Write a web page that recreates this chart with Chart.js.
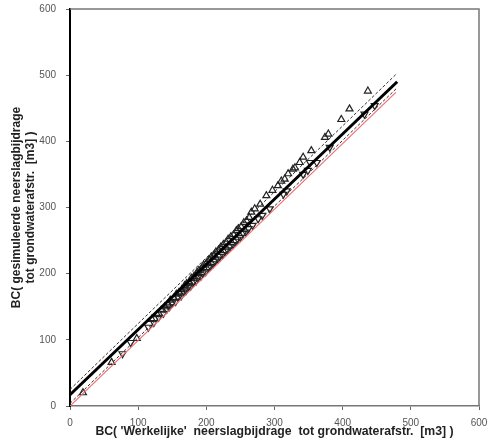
<!DOCTYPE html>
<html><head><meta charset="utf-8">
<script src="https://cdn.jsdelivr.net/npm/chart.js@4"></script>
<style>html,body{margin:0;padding:0;background:#fff}#wrap{width:489px;height:445px}</style>
</head><body><div id="wrap"><canvas id="c" width="489" height="445"></canvas></div>
<script>
const xTicks = [0,100,200,300,400,500,600];
const yTicks = [0,100,200,300,400,500,600];
const upX = [19,61,98,120,128,134,139,143,147,152,156,160,164,168,171,175,178,182,186,189,193,196,200,204,207,211,214,218,221,225,229,232,236,240,244,247,251,255,259,263,266,271,279,288,297,305,310,315,320,327,330,337,342,354,374,379,398,410,437];
const upY = [20,66,102,131,138,145,150,154,160,163,169,172,176,182,185,188,193,196,201,205,208,213,216,221,225,228,233,236,240,244,247,252,256,259,265,268,271,277,280,285,293,298,305,318,326,333,340,343,351,358,360,368,376,386,406,411,433,449,476];
const dnX = [77,89,115,123,130,137,142,146,150,155,159,163,167,170,174,177,181,185,188,192,195,199,203,206,210,213,217,220,224,228,231,235,239,243,246,250,254,258,262,268,276,282,293,313,318,342,349,352,362,381,432,447];
const dnY = [79,96,119,126,134,140,146,150,156,158,164,166,172,174,180,181,187,189,194,196,201,203,209,211,215,219,222,226,229,234,236,241,244,249,252,255,261,263,268,273,283,288,298,320,325,350,356,368,368,391,441,454];
const fitX = [0,480];
const fitY = [17,490];
const upperX = [0,480];
const upperY = [25,503];
const lowerX = [0,480];
const lowerY = [4,481];
const oneX = [0,478];
const oneY = [0,474];

const pts = (xs, ys) => xs.map((x,i)=>({x, y: ys[i]}));
const tickSet = vals => scale => { scale.ticks = vals.map(v=>({value:v})); };

const frame = {
  id:'frame',
  afterDatasetsDraw(chart){
    const {ctx, chartArea:a} = chart;
    ctx.save();
    ctx.strokeStyle = '#777'; ctx.lineWidth = 1.5;
    ctx.beginPath();
    ctx.moveTo(a.left, a.top); ctx.lineTo(a.right, a.top); ctx.lineTo(a.right, a.bottom);
    ctx.stroke();
    ctx.restore();
  }
};

new Chart(document.getElementById('c'), {
  type:'scatter',
  data:{datasets:[
    {type:'line', data:pts(fitX,fitY), borderColor:'#000', borderWidth:3, pointRadius:0, order:1},
    {type:'line', data:pts(upperX,upperY), borderColor:'#333', borderWidth:1, borderDash:[3,2], pointRadius:0, order:2},
    {type:'line', data:pts(lowerX,lowerY), borderColor:'#333', borderWidth:1, borderDash:[3,2], pointRadius:0, order:3},
    {type:'line', data:pts(oneX,oneY), borderColor:'#f07070', borderWidth:1.2, pointRadius:0, order:4},
    {data:pts(upX,upY), pointStyle:'triangle', pointRadius:4, borderColor:'#222', backgroundColor:'rgba(0,0,0,0)', borderWidth:1.2, order:5},
    {data:pts(dnX,dnY), pointStyle:'triangle', rotation:180, pointRadius:4, borderColor:'#222', backgroundColor:'rgba(0,0,0,0)', borderWidth:1.2, order:6}
  ]},
  options:{
    responsive:false, animation:false,
    layout:{padding:{top:9,right:10,left:0,bottom:0}},
    plugins:{legend:{display:false}, tooltip:{enabled:false}},
    scales:{
      x:{type:'linear', min:0, max:600, afterBuildTicks:tickSet(xTicks),
        afterFit: s=>{s.height=39; s.paddingLeft=0; s.paddingRight=0;},
        grid:{drawOnChartArea:false, drawTicks:true, tickLength:4, color:'#666'},
        border:{color:'#777', width:1.5},
        ticks:{font:{family:'Liberation Sans, Arial', size:10}, color:'#555', padding:7, maxRotation:0},
        title:{display:true, text:"BC( 'Werkelijke'  neerslagbijdrage  tot grondwaterafstr.  [m3] )",
          font:{family:'Liberation Sans, Arial', size:12.25, weight:'bold'}, color:'#222', padding:{top:0,bottom:6}}
      },
      y:{type:'linear', min:0, max:600, afterBuildTicks:tickSet(yTicks),
        afterFit: s=>{s.width=70; s.paddingTop=0; s.paddingBottom=0;},
        grid:{drawOnChartArea:false, drawTicks:true, tickLength:4, color:'#666'},
        border:{color:'#000', width:2},
        ticks:{font:{family:'Liberation Sans, Arial', size:10}, color:'#555', padding:10},
        title:{display:true, text:['BC( gesimuleerde neerslagbijdrage','tot grondwaterafstr.  [m3] )'],
          font:{family:'Liberation Sans, Arial', size:12, weight:'bold'}, color:'#222', padding:{top:9,bottom:0}}
      }
    }
  },
  plugins:[frame]
});
</script></body></html>
